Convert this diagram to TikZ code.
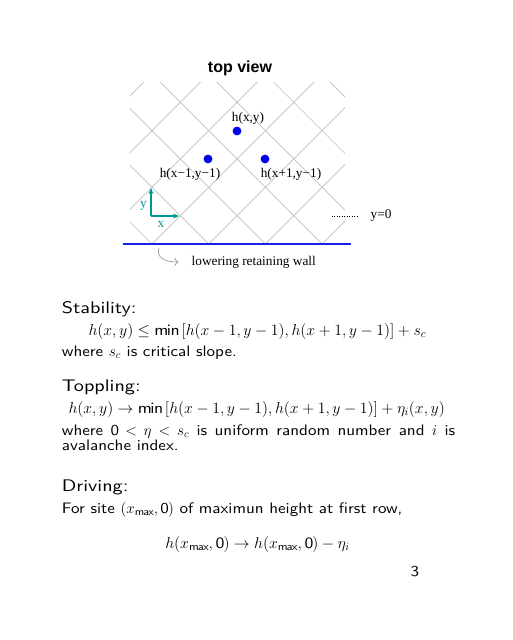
\documentclass[tikz,border=0pt]{standalone}
\usepackage{fix-cm}
\usepackage{amsmath}
\usepackage{amssymb}
\usepackage{fontspec}
\usepackage{tikz}
\usepackage{xcolor}
\usetikzlibrary{arrows.meta,positioning}

\setsansfont{lmsans10-regular.otf}[FakeStretch=1.12]
\newfontfamily\headfont{lmsans10-regular.otf}[FakeStretch=1.2]
\newfontfamily\figfont{Liberation Serif}
\newfontfamily\titlefont{Liberation Sans}
\definecolor{wallblue}{RGB}{25,35,230}
\definecolor{siteblue}{RGB}{0,0,235}
\definecolor{axisteal}{RGB}{0,150,145}

\tikzset{
  gridline/.style={line width=0.7pt, color=black!25},
  site/.style={circle, fill=siteblue, inner sep=0pt, minimum size=8.8pt},
  figlabel/.style={font=\figfont\fontsize{13.3}{14}\selectfont, inner sep=0pt},
  bodyline/.style={anchor=base west, inner sep=0pt, font=\sffamily\fontsize{15.2}{16}\selectfont},
  eqline/.style={bodyline, font=\sffamily\fontsize{15.8}{16}\selectfont},
  heading/.style={bodyline, font=\headfont\fontsize{16.8}{18}\selectfont}
}

\begin{document}
\begin{tikzpicture}[x=1pt, y=-1pt]
  \useasboundingbox[fill=white] (0,0) rectangle (512,640);

  % top view lattice
  \node[font=\titlefont\bfseries\fontsize{16}{16}\selectfont] (title) at (240,68) {top view};
  \begin{scope}[shift={(152,244)}, x=28.35pt, y=28.35pt]
    \clip (-0.78,0) rectangle (6.81,5.68);
    \foreach \k in {-3,...,6} {
      \draw[gridline] (2*\k-1,-1) -- (2*\k+7,7);
      \draw[gridline] (2*\k+1,-1) -- (2*\k-7,7);
    }
  \end{scope}

  \node[site] (hxy) at (237,131) {};
  \node[site] (hleft) at (208,159) {};
  \node[site] (hright) at (265,159) {};
  \node[figlabel] (lxy) at (248,118) {h(x,y)};
  \node[figlabel] (lleft) at (190,174) {h(x−1,y−1)};
  \node[figlabel] (lright) at (291,174) {h(x+1,y−1)};

  % axes
  \coordinate (orig) at (151,216);
  \coordinate (ytip) at (151,188);
  \coordinate (xtip) at (179,216);
  \draw[line width=1.2pt, color=axisteal, -{Stealth[length=6pt,width=5pt]}] (orig) -- (ytip);
  \draw[line width=1.2pt, color=axisteal, -{Stealth[length=6pt,width=5pt]}] (orig) -- (xtip);
  \node[figlabel, text=axisteal] (ylbl) at (143.5,206) {y};
  \node[figlabel, text=axisteal] (xlbl) at (161,224) {x};

  \node[figlabel] (yzero) at (381,216) {y=0};
  \coordinate (dotstart) at (331.5,216);
  \draw[line width=0.9pt, dash pattern=on 1.1pt off 1.4pt] (dotstart) -- (358,216);

  % retaining wall
  \coordinate (wallL) at (122.5,244);
  \coordinate (wallR) at (350.5,244);
  \draw[line width=2.6pt, color=wallblue] (wallL) -- (wallR);
  \node[figlabel, anchor=west] (wall) at (191.5,262) {lowering retaining wall};
  \coordinate (wallpt) at (159,248);
  \draw[color=black!45, line width=0.6pt, -{To[length=4pt]}] (wallpt) .. controls (156,258) and (165,262) .. ([xshift=-13pt]wall.west);

  % text of the slide
  \node[heading] (stab) at (61.7,313.3) {Stability:};
  \node[eqline] (eqstab) at (88.3,335) {$h(x,y)\le \mathsf{min}\,[h(x-1,y-1),h(x+1,y-1)]+s_c$};
  \node[bodyline] (wherestab) at (61.7,356.7) {where $s_c$ is critical slope.};
  \node[heading] (topp) at (61.7,391.7) {Toppling:};
  \node[eqline] (eqtopp) at (68.3,413) {$h(x,y)\to \mathsf{min}\,[h(x-1,y-1),h(x+1,y-1)]+\eta_i(x,y)$};
  \node[bodyline] (wheretopp) at (61.7,435) {\makebox[393.3pt][s]{where $\mathsf{0}<\eta<s_c$ is uniform random number and $i$ is}};
  \node[bodyline] (wheretoppb) at (61.7,450) {avalanche index.};
  \node[heading] (driv) at (61.7,491.7) {Driving:};
  \node[bodyline] (fordriv) at (61.7,513.3) {For site $(x_{\mathsf{max}},\mathsf{0})$ of maximun height at first row,};
  \node[eqline, anchor=base] (eqdriv) at (257.5,548.3) {$h(x_{\mathsf{max}},\mathsf{0})\to h(x_{\mathsf{max}},\mathsf{0})-\eta_i$};
  \node[bodyline, anchor=base] (page) at (415,576.7) {3};
\end{tikzpicture}
\end{document}
